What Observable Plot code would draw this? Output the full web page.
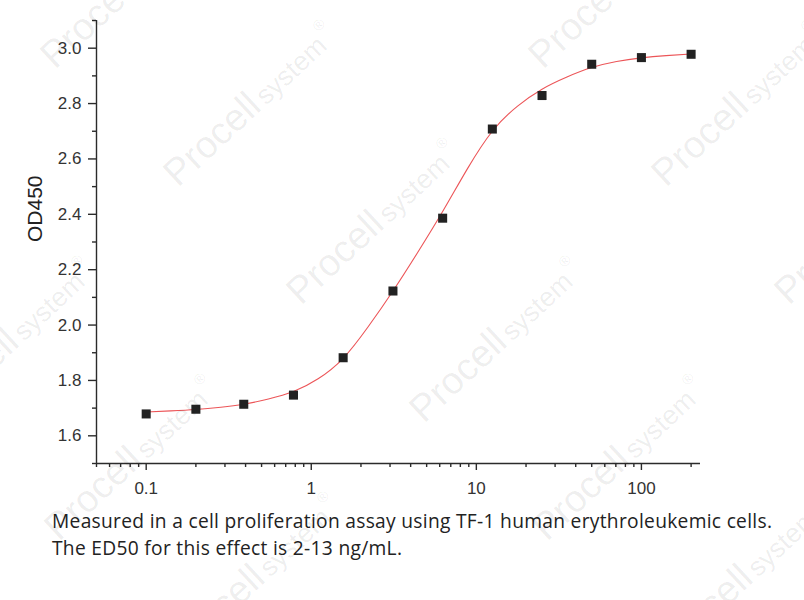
<!DOCTYPE html>
<html>
<head>
<meta charset="utf-8">
<script src="https://cdn.jsdelivr.net/npm/d3@7"></script>
<script src="https://cdn.jsdelivr.net/npm/@observablehq/plot@0.6"></script>
<style>
  html, body { margin: 0; padding: 0; background: #fff; }
  #wrap { position: relative; width: 804px; height: 600px; overflow: hidden; }
  #chart { position: absolute; left: 0; top: 0; }
  #caption { position: absolute; left: 52px; top: 507px; font-family: "Open Sans", "Noto Sans", sans-serif;
    font-size: 19.2px; line-height: 27px; color: #222; letter-spacing: 0.3px; white-space: nowrap; }
  #wm { position: absolute; left: 0; top: 0; pointer-events: none; }
</style>
</head>
<body>
<div id="wrap">
  <div id="chart"></div>
  <div id="caption">Measured in a cell proliferation assay using TF-1 human erythroleukemic cells.<br>The ED50 for this effect is 2-13 ng/mL.</div>
  <svg id="wm" width="804" height="600"></svg>
</div>
<script>
// Measured points (concentration ng/mL, OD450)
const conc = [0.1, 0.2, 0.39, 0.78, 1.56, 3.125, 6.25, 12.5, 25, 50, 100, 200];
const od   = [1.679, 1.696, 1.714, 1.747, 1.882, 2.123, 2.386, 2.708, 2.829, 2.942, 2.966, 2.978];

// Fitted curve
const fitX = [0.1, 0.141, 0.2, 0.283, 0.39, 0.55, 0.78, 1.1, 1.56, 2.2, 3.125, 4.42, 6.25, 8.84, 12.5, 17.7, 25, 35.4, 50, 70.7, 100, 141, 200];
const fitY = [1.686, 1.690, 1.695, 1.703, 1.714, 1.733, 1.760, 1.806, 1.880, 1.992, 2.123, 2.263, 2.410, 2.565, 2.700, 2.790, 2.852, 2.896, 2.930, 2.952, 2.965, 2.973, 2.979];

// Axis ticks
const xTicks = [0.1, 1, 10, 100];
const xMinor = [0.05, 0.06, 0.07, 0.08, 0.09, 0.2, 0.3, 0.4, 0.5, 0.6, 0.7, 0.8, 0.9,
                2, 3, 4, 5, 6, 7, 8, 9, 20, 30, 40, 50, 60, 70, 80, 90, 200];
const yTicks = [1.6, 1.8, 2.0, 2.2, 2.4, 2.6, 2.8, 3.0];
const yMinor = [1.5, 1.7, 1.9, 2.1, 2.3, 2.5, 2.7, 2.9, 3.1];
const yLabel = "OD450";

const points = conc.map((c, i) => ({c, v: od[i]}));
const fit = fitX.map((c, i) => ({c, v: fitY[i]}));

const axisColor = "#2b2b2b";

const plot = Plot.plot({
  width: 804,
  height: 500,
  marginLeft: 96,
  marginRight: 104,
  marginTop: 20,
  marginBottom: 37,
  style: {fontFamily: "'Liberation Sans', Arial, sans-serif", fontSize: "17px", color: "#333", background: "transparent"},
  x: {type: "log", domain: [0.05, 228]},
  y: {domain: [1.5, 3.1]},
  marks: [
    Plot.ruleY([1.5], {stroke: axisColor, strokeWidth: 1.4}),
    Plot.ruleX([0.05], {stroke: axisColor, strokeWidth: 1.4}),
    Plot.axisX(xTicks, {tickSize: 7, tickPadding: 11, tickFormat: d => String(d), stroke: axisColor, strokeWidth: 1.4, label: null}),
    Plot.axisX(xMinor, {tickSize: 4, tickFormat: () => "", stroke: axisColor, strokeWidth: 1.4, label: null}),
    Plot.axisY(yTicks, {tickSize: 8, tickPadding: 7, tickFormat: d3.format(".1f"), stroke: axisColor, strokeWidth: 1.4, label: null}),
    Plot.axisY(yMinor, {tickSize: 4, tickFormat: () => "", stroke: axisColor, strokeWidth: 1.4, label: null}),
    Plot.text([yLabel], {frameAnchor: "left", rotate: -90, dx: -61, fontSize: 21, fill: "#222"}),
    Plot.line(fit, {x: "c", y: "v", stroke: "#ec5558", strokeWidth: 1.1, curve: "natural"}),
    Plot.dot(points, {x: "c", y: "v", symbol: "square", r: 5.1, fill: "#222", stroke: "none"})
  ]
});
document.getElementById("chart").appendChild(plot);

// Watermark overlay
const wm = d3.select("#wm");
const ox = 178, oy = 188, ax = 123, ay = 118, bx = 365, by = -118;
for (let i = -3; i <= 4; i++) {
  for (let j = -2; j <= 3; j++) {
    const px = ox + i * ax + j * bx, py = oy + i * ay + j * by;
    if (px < -300 || px > 850 || py < -50 || py > 850) continue;
    const t = wm.append("text")
      .attr("transform", `translate(${px},${py}) rotate(-43)`)
      .attr("font-family", "'Liberation Sans', Arial, sans-serif")
      .attr("fill", "#000").attr("fill-opacity", 0.075);
    t.append("tspan").attr("font-size", 38).text("Procell");
    t.append("tspan").attr("font-size", 27).attr("dx", 4).text("system");
    t.append("tspan").attr("font-size", 15).attr("dx", 3).attr("dy", -18).text("®");
  }
}
</script>
</body>
</html>
